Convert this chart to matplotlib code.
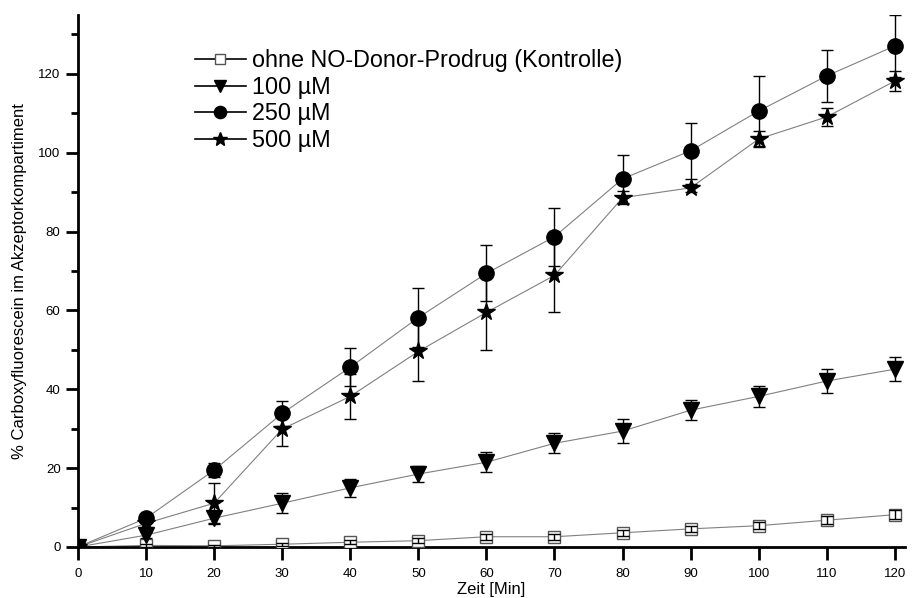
import numpy as np
import matplotlib.pyplot as plt
from matplotlib.lines import Line2D

plt.rcParams['font.family'] = ['Liberation Sans', 'DejaVu Sans']

zeit = [0, 10, 20, 30, 40, 50, 60, 70, 80, 90, 100, 110, 120]

# Mittelwerte
kontrolle = [0, 0.4, 0.3, 0.7, 1.2, 1.6, 2.6, 2.6, 3.6, 4.6, 5.4, 6.8, 8.2]
c100 = [0, 3.0, 7.3, 11.1, 15.0, 18.5, 21.5, 26.3, 29.4, 34.7, 38.2, 42.1, 45.1]
c250 = [0, 7.3, 19.5, 33.9, 45.6, 58.2, 69.4, 78.7, 93.4, 100.5, 110.6, 119.5, 127.1]
c500 = [0, 6.0, 11.1, 29.9, 38.2, 49.6, 59.5, 68.9, 88.6, 91.1, 103.5, 109.1, 118.2]

# Standardabweichungen
sd_kontrolle = [0, 0.3, 0.3, 0.4, 0.5, 0.6, 0.7, 0.7, 0.8, 0.8, 0.9, 1.0, 1.1]
sd_100 = [0, 0.8, 1.5, 2.5, 2.2, 2.0, 2.5, 2.5, 3.1, 2.5, 2.6, 3.0, 3.0]
sd_250 = [0, 1.0, 1.8, 3.1, 4.8, 7.4, 7.1, 7.4, 6.1, 7.1, 8.9, 6.6, 7.8]
sd_500 = [0, 1.0, 5.1, 4.3, 5.8, 7.6, 9.6, 9.2, 1.6, 1.0, 2.1, 2.3, 2.5]

labels = ['ohne NO-Donor-Prodrug (Kontrolle)', '100 µM', '250 µM', '500 µM']

fig = plt.figure(figsize=(9.17, 5.98), dpi=100)
ax = fig.add_axes([0.085, 0.0853, 0.902, 0.890])

reihen = [
    (kontrolle, sd_kontrolle, 's', 9, 'white', '#555555'),
    (c100, sd_100, 'v', 11, 'black', 'black'),
    (c250, sd_250, 'o', 11, 'black', 'black'),
    (c500, sd_500, '*', 13, 'black', 'black'),
]

for y, sd, m, ms, fc, ec in reihen:
    ax.plot(zeit, y, color='#808080', lw=0.8, zorder=2)
    ax.plot(zeit, y, ls='none', marker=m, ms=ms, mfc=fc, mec=ec, mew=1.0, zorder=3)
    ax.errorbar(zeit, y, yerr=sd, fmt='none', ecolor='black', elinewidth=1.0,
                capsize=4.5, capthick=1.0, zorder=4)

handles = []
for y, sd, m, ms, fc, ec in reihen:
    handles.append(Line2D([], [], color='black', lw=1.2, marker=m,
                          ms=ms * 0.8, mfc=fc, mec=ec))
ax.legend(handles, labels, loc='upper left', bbox_to_anchor=(0.141, 0.935),
          frameon=False, fontsize=16.8, handlelength=2.2, handletextpad=0.25,
          labelspacing=0.15, borderaxespad=0, borderpad=0)

ax.set_xlim(0, 121.5)
ax.set_ylim(0, 135)
ax.set_xticks(zeit)
ax.set_yticks([0, 20, 40, 60, 80, 100, 120])
ax.set_yticks(np.arange(10, 135, 20), minor=True)

for s in ['top', 'right']:
    ax.spines[s].set_visible(False)
for s in ['left', 'bottom']:
    ax.spines[s].set_linewidth(2)

ax.tick_params(axis='both', which='major', direction='out', width=2,
               length=9, labelsize=9.5)
ax.tick_params(axis='x', which='major', pad=6)
ax.tick_params(axis='y', which='minor', direction='out', width=2, length=5)

ax.set_xlabel('Zeit [Min]', fontsize=12, labelpad=1.5)
ax.set_ylabel('% Carboxyfluorescein im Akzeptorkompartiment', fontsize=12, labelpad=8)

fig.savefig('out.png', dpi=100)
